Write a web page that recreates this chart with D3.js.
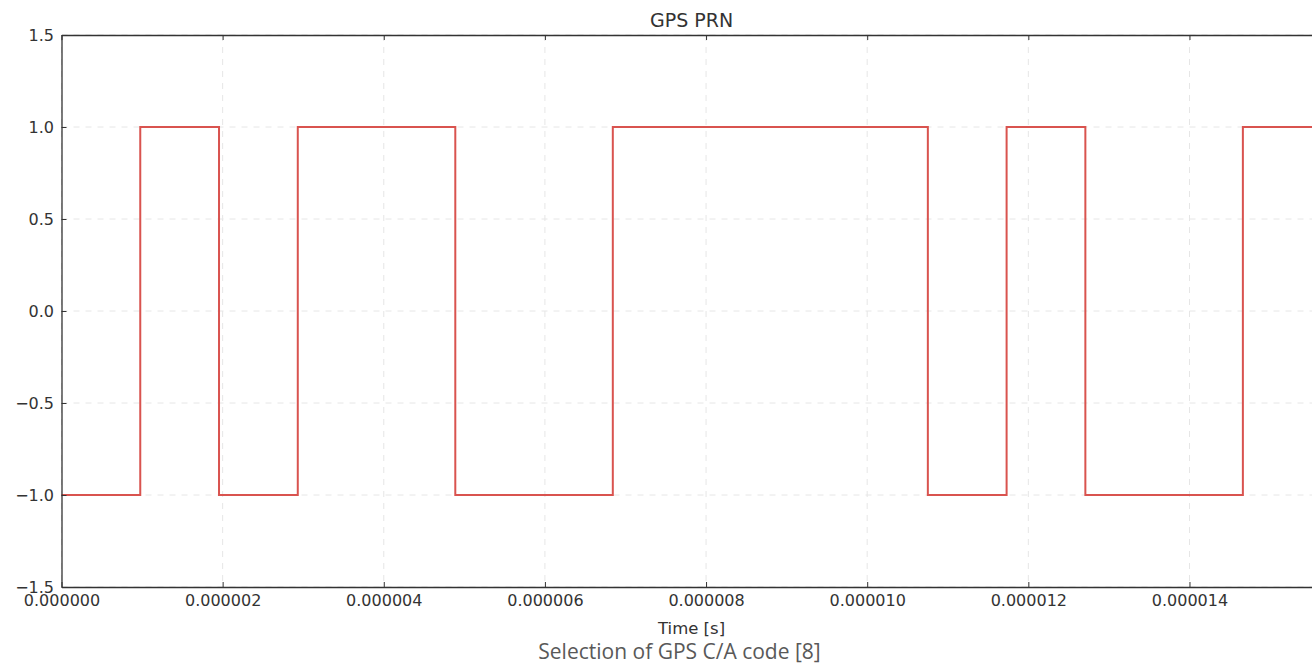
<!DOCTYPE html>
<html><head><meta charset="utf-8">
<script src="https://cdn.jsdelivr.net/npm/d3@7"></script>
<style>body{margin:0;background:#fff;} svg{display:block;}</style>
</head><body>
<svg id="c" width="1312" height="664"></svg>
<script>
const title = "GPS PRN";
const xLabel = "Time [s]";
const caption = "Selection of GPS C/A code [8]";
const chipRate = 1.023e6; // chips per second
const chipValues = [-1, 1, -1, 1, 1, -1, -1, 1, 1, 1, 1, -1, 1, -1, -1, 1];
const xTicks = [0, 0.000002, 0.000004, 0.000006, 0.000008, 0.000010, 0.000012, 0.000014];
const yTicks = [-1.5, -1.0, -0.5, 0.0, 0.5, 1.0, 1.5];

const chip = 1 / chipRate;
const data = chipValues.map((v, i) => ({t: i * chip, v}));
data.push({t: chipValues.length * chip, v: chipValues[chipValues.length - 1]});

const svg = d3.select("#c");
const m = {l: 61.5, t: 35, b: 587};
const x = d3.scaleLinear().domain([0, chipValues.length * chip]).range([m.l, m.l + 80.57e6 * chipValues.length * chip]);
const y = d3.scaleLinear().domain([-1.5, 1.5]).range([m.b, m.t]);
const x0 = x.range()[0], x1 = x.range()[1];

const font = "DejaVu Sans";
const g = svg.append("g");
// grid
g.selectAll(".gx").data(xTicks).join("line")
  .attr("x1", d => x(d)).attr("x2", d => x(d)).attr("y1", m.t).attr("y2", m.b)
  .attr("stroke", "#e6e6e6").attr("stroke-dasharray", "6,6").attr("stroke-width", 1);
g.selectAll(".gy").data(yTicks).join("line")
  .attr("x1", x0).attr("x2", x1).attr("y1", d => y(d)).attr("y2", d => y(d))
  .attr("stroke", "#e6e6e6").attr("stroke-dasharray", "6,6").attr("stroke-width", 1);

// line
const line = d3.line().x(d => x(d.t)).y(d => y(d.v)).curve(d3.curveStepAfter);
svg.append("path").datum(data).attr("d", line)
  .attr("fill", "none").attr("stroke", "#d9534f").attr("stroke-width", 2);

// axes
const xAxis = d3.axisBottom(x).tickValues(xTicks).tickSizeInner(-5).tickSizeOuter(0).tickPadding(8)
  .tickFormat(d => d.toFixed(6));
const ax = svg.append("g").attr("transform", `translate(0,${m.b})`).call(xAxis);
const xAxisT = d3.axisTop(x).tickValues(xTicks).tickSizeInner(-5).tickSizeOuter(0).tickFormat("");
svg.append("g").attr("transform", `translate(0,${m.t})`).call(xAxisT);
const yAxis = d3.axisLeft(y).tickValues(yTicks).tickSizeInner(-5).tickSizeOuter(0).tickPadding(7.5)
  .tickFormat(d => d3.format(".1f")(d).replace("-", "\u2212"));
svg.append("g").attr("transform", `translate(${x0},0)`).call(yAxis);
const yAxisR = d3.axisRight(y).tickValues(yTicks).tickSizeInner(-5).tickSizeOuter(0).tickFormat("");
svg.append("g").attr("transform", `translate(${x1},0)`).call(yAxisR);

svg.selectAll(".domain").attr("stroke", "#333").attr("stroke-width", 1.3);
svg.selectAll(".tick line").attr("stroke", "#333");
svg.selectAll(".tick text").attr("font-family", font).attr("font-size", 16).attr("fill", "#333");

// title & labels
svg.append("text").attr("x", (x0 + x1) / 2).attr("y", 27).attr("text-anchor", "middle")
  .attr("font-family", font).attr("font-size", 19).attr("fill", "#333").text(title);
svg.append("text").attr("x", (x0 + x1) / 2).attr("y", 634).attr("text-anchor", "middle")
  .attr("font-family", font).attr("font-size", 16.5).attr("fill", "#333").text(xLabel);
svg.append("text").attr("x", 679.5).attr("y", 659).attr("text-anchor", "middle")
  .attr("font-family", "Open Sans").attr("font-size", 21).attr("fill", "#595959").text(caption);
</script>
</body></html>
